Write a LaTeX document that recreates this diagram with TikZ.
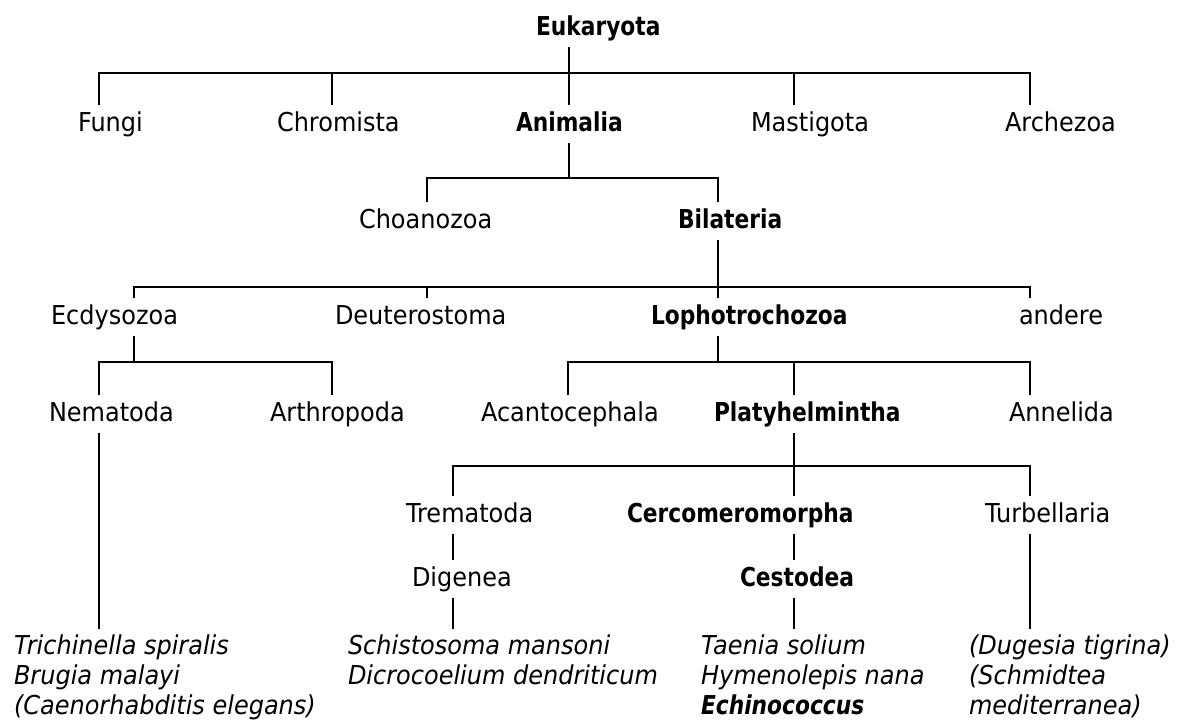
\documentclass[tikz,border=0pt]{standalone}
\usepackage{fontspec}
\setmainfont{DejaVu Sans}[FakeStretch=0.923,BoldFeatures={FakeStretch=0.837},BoldItalicFeatures={FakeStretch=0.837}]
\usepackage{tikz}

\newcommand{\taxfont}{\fontsize{26}{30}\selectfont}

\begin{document}
\begin{tikzpicture}[x=1pt,y=-1pt,line width=2pt,
    taxon/.style={anchor=base west,inner xsep=0pt,inner ysep=5pt,text height=20pt,text depth=6pt,font=\taxfont},
    mainline/.style={taxon,font=\taxfont\bfseries},
    species/.style={anchor=north west,inner xsep=0pt,inner ysep=5pt,align=left,font=\taxfont\itshape}]
			\def \yA {73};
			\def \yB {178};
			\def \yC {287};
			\def \yD {362};
			\def \yE {466};
			\useasboundingbox (0,0) rectangle (1179,720);

			%Eukaryota
			\node[mainline] (eu) at (535,35) {Eukaryota};
			\node[taxon] (fungi) at (77,131) {Fungi};
			\node[taxon] (chrom) at (276,131) {Chromista};
			\node[mainline] (ani) at (515,131) {Animalia};
			\node[taxon] (mast) at (750,131) {Mastigota};
			\node[taxon] (arch) at (1004,131) {Archezoa};
			\draw (569,0 |- eu.south) -- (569,\yA);
			\draw (99,0 |- fungi.north) -- (99,\yA) -- (1030,\yA) -- (1030,0 |- arch.north);
			\foreach \x/\n in {332/chrom,569/ani,794/mast}
				\draw (\x,\yA) -- (\x,0 |- \n.north);

			%Animalia
			\node[taxon] (choan) at (358,228) {Choanozoa};
			\node[mainline] (bila) at (677,228) {Bilateria};
			\draw (569,0 |- ani.south) -- (569,\yB);
			\draw (427,0 |- choan.north) -- (427,\yB) -- (718,\yB) -- (718,0 |- bila.north);

			%Bilateria
			\node[taxon] (ecdy) at (50,324) {Ecdysozoa};
			\node[taxon] (deut) at (334,324) {Deuterostoma};
			\node[mainline] (loph) at (650,324) {Lophotrochozoa};
			\node[taxon] (andere) at (1018,324) {andere};
			\draw (718,0 |- bila.south) -- (718,\yC);
			\draw (134,0 |- ecdy.north) -- (134,\yC) -- (1030,\yC) -- (1030,0 |- andere.north);
			\foreach \x/\n in {427/deut,718/loph}
				\draw (\x,\yC) -- (\x,0 |- \n.north);

			%Ecdysozoa
			\node[taxon] (nema) at (48,421) {Nematoda};
			\node[taxon] (arthro) at (269,421) {Arthropoda};
			\draw (134,0 |- ecdy.south) -- (134,\yD);
			\draw (99,0 |- nema.north) -- (99,\yD) -- (332,\yD) -- (332,0 |- arthro.north);

			%Lophotrochozoa
			\node[taxon] (acant) at (480,421) {Acantocephala};
			\node[mainline] (platy) at (713,421) {Platyhelmintha};
			\node[taxon] (annel) at (1008,421) {Annelida};
			\draw (718,0 |- loph.south) -- (718,\yD);
			\draw (568,0 |- acant.north) -- (568,\yD) -- (1030,\yD) -- (1030,0 |- annel.north);
			\draw (794,\yD) -- (794,0 |- platy.north);

			%Platyhelmintha
			\node[taxon] (trema) at (405,522) {Trematoda};
			\node[mainline] (cerco) at (626,522) {Cercomeromorpha};
			\node[taxon] (turb) at (984,522) {Turbellaria};
			\node[taxon] (dig) at (411,586) {Digenea};
			\node[mainline] (cest) at (739,586) {Cestodea};
			\draw (794,0 |- platy.south) -- (794,\yE);
			\draw (453,0 |- trema.north) -- (453,\yE) -- (1030,\yE) -- (1030,0 |- turb.north);
			\draw (794,\yE) -- (794,0 |- cerco.north);
			\draw (453,0 |- trema.south) -- (453,0 |- dig.north);
			\draw (794,0 |- cerco.south) -- (794,0 |- cest.north);

			%Arten
			\node[species] (nemList) at (13,629) {Trichinella spiralis\\Brugia malayi\\(Caenorhabditis elegans)};
			\node[species] (digList) at (347,629) {Schistosoma mansoni\\Dicrocoelium dendriticum};
			\node[species] (cestList) at (700,629) {Taenia solium\\Hymenolepis nana\\\textbf{Echinococcus}};
			\node[species] (turbList) at (968,629) {(Dugesia tigrina)\\(Schmidtea\\mediterranea)};
			\draw (99,0 |- nema.south) -- (99,0 |- nemList.north);
			\draw (453,0 |- dig.south) -- (453,0 |- digList.north);
			\draw (794,0 |- cest.south) -- (794,0 |- cestList.north);
			\draw (1030,0 |- turb.south) -- (1030,0 |- turbList.north);
		\end{tikzpicture}
\end{document}
